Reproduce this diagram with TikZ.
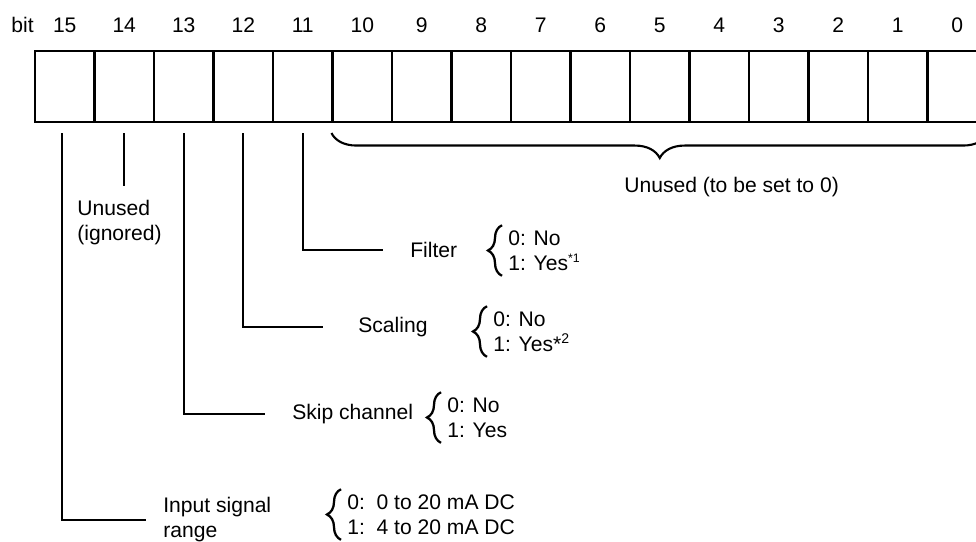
\documentclass[tikz,border=0pt]{standalone}
\usepackage{fontspec}
\setmainfont{Liberation Sans}
\usepackage{tikz}
\usetikzlibrary{positioning,decorations.pathreplacing}

\begin{document}
\begin{tikzpicture}[
    x=0.02cm, y=-0.02cm,
    font=\fontsize{12}{14.2}\selectfont,
    cell/.style={draw, line width=1.2pt, minimum width=1.19cm, minimum height=1.42cm, inner sep=0pt},
    lead/.style={line width=1.2pt},
    lbl/.style={anchor=west, align=left, inner sep=0pt},
    opt/.style={anchor=west, align=left, inner xsep=0.12cm, inner ysep=0.1cm},
    brc/.style={decorate, decoration={brace, amplitude=0.28cm}, line width=1.3pt},
    bigbrc/.style={decorate, decoration={brace, mirror, amplitude=0.5cm}, line width=1.2pt}
]
\useasboundingbox (0,0) rectangle (976,541);

% register cells and bit numbers
\node[anchor=base] (bitlbl) at (22.5,32) {bit};
\foreach \b in {0,...,15} {
    \node[cell] (c\b) at ({64.75+59.5*(15-\b)}, 86.5) {};
    \node[anchor=base] (n\b) at (c\b |- 0,32) {\b};
}

% unused bits 10..0
\draw[bigbrc] ([yshift=-0.2cm]c10.south west) -- ([yshift=-0.2cm]c0.south east);
\node[lbl] (unused) at (624,187) {Unused (to be set to 0)};

% labels
\node[lbl] (ign) at (77,223) {Unused\\(ignored)};
\node[lbl] (filter) at (410,250) {Filter};
\node[lbl] (scaling) at (358,327) {Scaling};
\node[lbl] (skip) at (292,414) {Skip channel};
\node[lbl] (range) at (163,520) {Input signal\\range};

% settings
\node[opt] (filteropt) at (502,250.5) {0: No\\1: Yes\textsuperscript{\scriptsize *1}};
\node[opt] (scalingopt) at (487,331.5) {0: No\\1: Yes*\textsuperscript{2}};
\node[opt] (skipopt) at (441,417.5) {0: No\\1: Yes};
\node[opt] (rangeopt) at (341,514.5) {0:\ \ 0 to 20 mA DC\\1:\ \ 4 to 20 mA DC};

\draw[brc] (filteropt.south west) -- (filteropt.north west);
\draw[brc] (scalingopt.south west) -- (scalingopt.north west);
\draw[brc] (skipopt.south west) -- (skipopt.north west);
\draw[brc] (rangeopt.south west) -- (rangeopt.north west);

% leader lines
\draw[lead] ([yshift=-0.2cm]c14.south) -- ([yshift=0.28cm]ign.north -| c14.south);
\draw[lead] ([yshift=-0.2cm]c11.south) |- ([xshift=-0.54cm]filter.west);
\draw[lead] ([yshift=-0.2cm]c12.south) |- ([xshift=-0.7cm]scaling.west);
\draw[lead] ([yshift=-0.2cm]c13.south) |- ([xshift=-0.54cm]skip.west);
\draw[lead] ([yshift=-0.2cm,xshift=-0.05cm]c15.south) |- ([xshift=-0.34cm]range.west);
\end{tikzpicture}
\end{document}
